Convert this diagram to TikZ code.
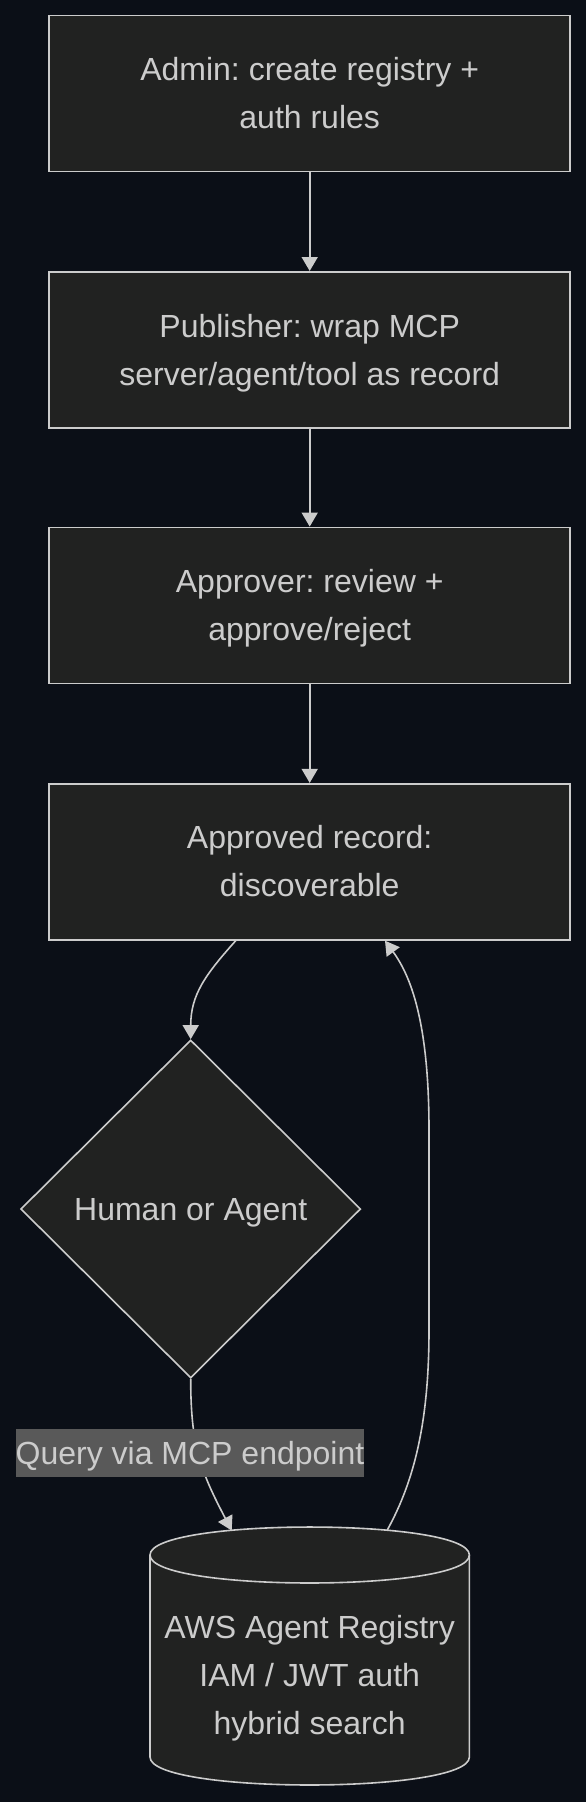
\documentclass[tikz,border=0pt]{standalone}
\usepackage{fontspec}
\setmainfont{Liberation Sans}
\usetikzlibrary{arrows.meta,shapes.geometric}
\definecolor{bgc}{HTML}{0B0F17}
\definecolor{nodefill}{HTML}{212221}
\definecolor{strokec}{HTML}{CCCCCC}
\definecolor{txtc}{HTML}{CCCCCC}
\definecolor{lblbg}{HTML}{595959}
\newcommand{\lstr}{\rule[-12.9pt]{0pt}{48pt}}
\frenchspacing
\begin{document}
\begin{tikzpicture}[x=1pt,y=-1pt,
  mfont/.style={font=\fontsize{32}{48}\selectfont},
  stepbox/.style={draw=strokec, fill=nodefill, line width=1.8pt, minimum width=521pt, minimum height=156pt, inner sep=0pt, text=txtc, mfont, align=center},
  decision/.style={diamond, draw=strokec, fill=nodefill, line width=1.6pt, minimum width=340pt, minimum height=338pt, inner sep=0pt, text=txtc, mfont},
  dbshape/.style={draw=strokec, fill=nodefill, line width=1.6pt},
  dbtext/.style={text=txtc, mfont, align=center, inner sep=0pt},
  edge/.style={draw=strokec, line width=1.6pt, -{Triangle[length=14pt,width=16pt]}},
  elabel/.style={fill=lblbg, text=txtc, mfont, inner sep=0pt}
]
\fill[bgc] (0,0) rectangle (586,1802);
\useasboundingbox (0,0) rectangle (586,1802);

\node[stepbox] (b1) at (309.7,93.5) {\lstr Admin: create registry +\\\lstr auth rules};
\node[stepbox] (b2) at (309.7,349.9) {\lstr Publisher: wrap MCP\\\lstr server/agent/tool as record};
\node[stepbox] (b3) at (309.7,605.5) {\lstr Approver: review +\\\lstr approve/reject};
\node[stepbox] (b4) at (309.7,861.8) {\lstr Approved record:\\\lstr discoverable};
\node[decision] (dec) at (190.7,1209) {\lstr Human or Agent};

% cylinder
\path[dbshape] (150,1555) -- (150,1757) .. controls (150,1794.3) and (469.4,1794.3) .. (469.4,1757)
  -- (469.4,1555) .. controls (469.4,1517.7) and (150,1517.7) .. (150,1555) -- cycle;
\draw[strokec, line width=1.6pt] (150,1555) .. controls (150,1592.3) and (469.4,1592.3) .. (469.4,1555);
\node[dbtext] (db) at (309.7,1675) {\lstr AWS Agent Registry\\\lstr IAM / JWT auth\\\lstr hybrid search};
\coordinate (dbin) at (231.7,1530.5);
\coordinate (dbout) at (387,1530.5);

\draw[edge] (b1) -- (b2);
\draw[edge] (b2) -- (b3);
\draw[edge] (b3) -- (b4);
\draw[edge] ([xshift=-74pt]b4.south) .. controls (205,975) and (190.7,995) .. (dec.north);
\draw[edge] (dec.south) .. controls (190.7,1445) and (200,1470) .. (dbin);
\draw[edge] (dbout) .. controls (415,1480) and (429,1420) .. (429,1330) -- (429,1130)
  .. controls (429,1020) and (410,975) .. ([xshift=75.3pt]b4.south);
\node[elabel] (ql) at (190,1453) {\lstr Query via MCP endpoint};
\end{tikzpicture}
\end{document}
